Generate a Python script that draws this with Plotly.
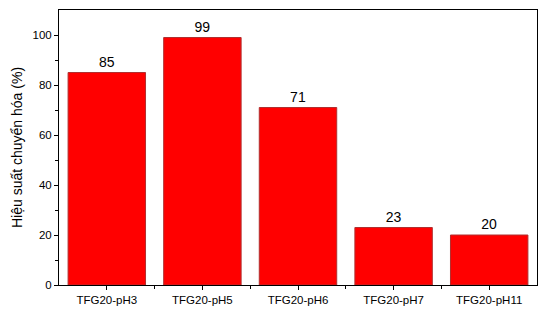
import plotly.graph_objects as go

categories = ["TFG20-pH3", "TFG20-pH5", "TFG20-pH6", "TFG20-pH7", "TFG20-pH11"]
values = [85, 99, 71, 23, 20]
y_title = "Hiệu suất chuyển hóa (%)"

fig = go.Figure()
fig.add_trace(go.Bar(
    x=list(range(len(categories))), y=values,
    text=[str(v) for v in values], textposition="outside",
    textfont=dict(family="Liberation Sans, Arial", size=14, color="black"),
    marker=dict(color="#ff0000", line=dict(color="#b03030", width=1)),
    width=0.81, cliponaxis=False,
))
fig.update_layout(
    width=545, height=309,
    margin=dict(l=59, r=8, t=10, b=24),
    paper_bgcolor="white", plot_bgcolor="white",
    font=dict(family="Liberation Sans, Arial", size=11.5, color="black"),
    showlegend=False,
)
fig.update_xaxes(
    range=[-0.5, 4.5], tickvals=list(range(len(categories))), ticktext=categories,
    ticks="outside", ticklen=4, tickwidth=1, tickcolor="black", automargin=False,
    showline=True, linecolor="black", linewidth=1, mirror=True, showgrid=False,
    minor=dict(tickvals=[0.5, 1.5, 2.5, 3.5], ticks="outside", ticklen=3, tickcolor="black"),
    zeroline=False,
)
fig.update_yaxes(
    range=[0, 110], tickvals=[0, 20, 40, 60, 80, 100], automargin=False,
    ticks="outside", ticklen=4, tickwidth=1, tickcolor="black",
    showline=True, linecolor="black", linewidth=1, mirror=True, showgrid=False,
    minor=dict(tickvals=[10, 30, 50, 70, 90], ticks="outside", ticklen=3, tickcolor="black"),
    title=dict(text=y_title, font=dict(size=14), standoff=6),
    zeroline=False,
)
fig.write_html("out.html")
